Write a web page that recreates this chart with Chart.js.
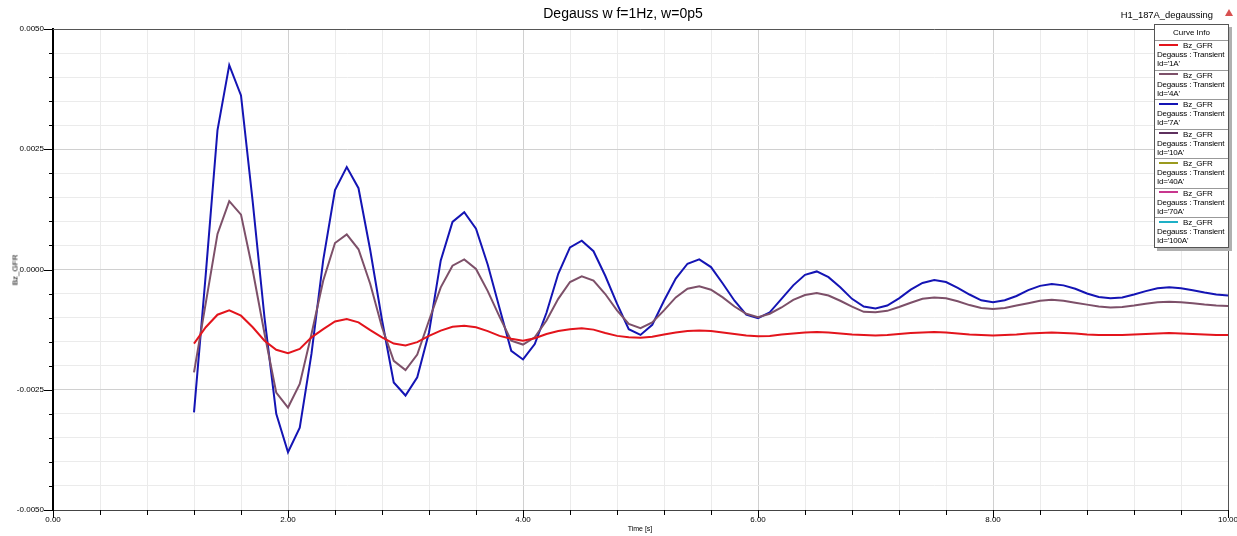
<!DOCTYPE html>
<html>
<head>
<meta charset="utf-8">
<title>Degauss w f=1Hz, w=0p5</title>
<script src="https://cdn.jsdelivr.net/npm/chart.js@4.4.1/dist/chart.umd.min.js"></script>
<style>
    body { margin: 0; background: #fff; font-family: "Liberation Sans", Arial, sans-serif; }
    #wrap { position: relative; width: 1237px; height: 536px; overflow: hidden; }
    #myChart { position: absolute; left: 0; top: 0; }
    .txt { position: absolute; white-space: nowrap; color: #000; }
    #title { left: 0; width: 1246px; top: 5px; text-align: center; font-size: 14px; }
    #design { right: 24px; top: 9px; font-size: 9.4px; }
    #icon { position: absolute; left: 1225px; top: 9px; width: 0; height: 0;
            border-left: 4px solid transparent; border-right: 4px solid transparent; border-bottom: 7px solid #d85050; }
    #ytitle { left: 15px; top: 270px; font-size: 8px; transform: translate(-50%, -50%) rotate(-90deg); }
    #xtitle { left: 640px; top: 525px; font-size: 7px; transform: translateX(-50%); }
    #legend { position: absolute; left: 1154px; top: 24px; width: 73px; background: #fff;
              border: 1px solid #555; box-shadow: 3px 3px 0 #b0b0b0; font-size: 8px; }
    #legend .head { height: 15px; line-height: 15px; text-align: center; border-bottom: 1px solid #999; }
    #legend .item { height: 28.5px; border-bottom: 1px solid #999; padding-left: 2px; line-height: 9px; letter-spacing: -0.2px; }
    #legend .item:last-child { border-bottom: none; }
    #legend .seg { display: inline-block; width: 19px; height: 2px; margin: 0 5px 2px 2px; vertical-align: middle; }
</style>
</head>
<body>
<div id="wrap">
    <canvas id="myChart" width="1237" height="536"></canvas>
    <div class="txt" id="title">Degauss w f=1Hz, w=0p5</div>
    <div class="txt" id="design">H1_187A_degaussing</div>
    <div id="icon"></div>
    <div class="txt" id="ytitle">Bz_GFR</div>
    <div class="txt" id="xtitle">Time [s]</div>
    <div id="legend"><div class="head">Curve Info</div></div>
</div>
<script>
// time axis [s]
const times = [
    1.2, 1.3, 1.4, 1.5, 1.6, 1.7, 1.8, 1.9, 2.0,
    2.1, 2.2, 2.3, 2.4, 2.5, 2.6, 2.7, 2.8, 2.9, 3.0,
    3.1, 3.2, 3.3, 3.4, 3.5, 3.6, 3.7, 3.8, 3.9, 4.0,
    4.1, 4.2, 4.3, 4.4, 4.5, 4.6, 4.7, 4.8, 4.9, 5.0,
    5.1, 5.2, 5.3, 5.4, 5.5, 5.6, 5.7, 5.8, 5.9, 6.0,
    6.1, 6.2, 6.3, 6.4, 6.5, 6.6, 6.7, 6.8, 6.9, 7.0,
    7.1, 7.2, 7.3, 7.4, 7.5, 7.6, 7.7, 7.8, 7.9, 8.0,
    8.1, 8.2, 8.3, 8.4, 8.5, 8.6, 8.7, 8.8, 8.9, 9.0,
    9.1, 9.2, 9.3, 9.4, 9.5, 9.6, 9.7, 9.8, 9.9, 10.0
];

// Bz_GFR for Id='1A'
const bz1A = [
    -0.00154, -0.00120, -0.00094, -0.00085, -0.00096, -0.00120, -0.00148, -0.00167, -0.00174,
    -0.00165, -0.00141, -0.00124, -0.00108, -0.00103, -0.00110, -0.00126, -0.00141, -0.00154, -0.00158,
    -0.00151, -0.00138, -0.00127, -0.00119, -0.00117, -0.00120, -0.00128, -0.00138, -0.00144, -0.00148,
    -0.00143, -0.00134, -0.00128, -0.00124, -0.00122, -0.00125, -0.00132, -0.00138, -0.00141, -0.00142,
    -0.00140, -0.00135, -0.00131, -0.00128, -0.00127, -0.00128, -0.00131, -0.00134, -0.00137, -0.00139,
    -0.00138, -0.00135, -0.00133, -0.00131, -0.00130, -0.00131, -0.00133, -0.00135, -0.00136, -0.00137,
    -0.00136, -0.00134, -0.00132, -0.00131, -0.00130, -0.00131, -0.00133, -0.00135, -0.00136, -0.00137,
    -0.00136, -0.00135, -0.00133, -0.00132, -0.00131, -0.00132, -0.00133, -0.00135, -0.00136, -0.00136,
    -0.00136, -0.00135, -0.00134, -0.00133, -0.00132, -0.00133, -0.00134, -0.00135, -0.00136, -0.00136
];

// Bz_GFR for Id='4A'
const bz4A = [
    -0.00214, -0.00070, 0.00074, 0.00142, 0.00114, -0.00002, -0.00133, -0.00256, -0.00287,
    -0.00238, -0.00134, -0.00023, 0.00055, 0.00073, 0.00042, -0.00030, -0.00120, -0.00190, -0.00209,
    -0.00177, -0.00106, -0.00037, 0.00008, 0.00021, 0.00001, -0.00045, -0.00098, -0.00148, -0.00156,
    -0.00141, -0.00106, -0.00061, -0.00026, -0.00014, -0.00023, -0.00051, -0.00085, -0.00113, -0.00122,
    -0.00110, -0.00085, -0.00058, -0.00040, -0.00035, -0.00042, -0.00058, -0.00077, -0.00092, -0.00099,
    -0.00092, -0.00079, -0.00063, -0.00053, -0.00049, -0.00054, -0.00065, -0.00077, -0.00088, -0.00089,
    -0.00086, -0.00078, -0.00069, -0.00061, -0.00058, -0.00060, -0.00066, -0.00074, -0.00080, -0.00082,
    -0.00080, -0.00075, -0.00070, -0.00065, -0.00063, -0.00065, -0.00069, -0.00073, -0.00077, -0.00079,
    -0.00078, -0.00075, -0.00071, -0.00068, -0.00067, -0.00068, -0.00070, -0.00073, -0.00075, -0.00076
];

// Bz_GFR for Id='7A'
const bz7A = [
    -0.00297, -0.00010, 0.00290, 0.00425, 0.00362, 0.00140, -0.00100, -0.00300, -0.00380,
    -0.00329, -0.00175, 0.00020, 0.00165, 0.00213, 0.00169, 0.00040, -0.00105, -0.00235, -0.00262,
    -0.00224, -0.00131, 0.00019, 0.00099, 0.00119, 0.00085, 0.00010, -0.00080, -0.00169, -0.00187,
    -0.00155, -0.00090, -0.00009, 0.00046, 0.00060, 0.00038, -0.00013, -0.00071, -0.00124, -0.00136,
    -0.00115, -0.00065, -0.00019, 0.00012, 0.00021, 0.00005, -0.00029, -0.00065, -0.00094, -0.00101,
    -0.00089, -0.00061, -0.00033, -0.00011, -0.00004, -0.00016, -0.00037, -0.00061, -0.00077, -0.00081,
    -0.00075, -0.00060, -0.00042, -0.00028, -0.00022, -0.00026, -0.00038, -0.00052, -0.00064, -0.00068,
    -0.00064, -0.00055, -0.00043, -0.00034, -0.00030, -0.00033, -0.00040, -0.00050, -0.00057, -0.00060,
    -0.00058, -0.00052, -0.00045, -0.00039, -0.00037, -0.00039, -0.00043, -0.00048, -0.00052, -0.00054
];

// curve info entries (the other currents have no drawn curve)
const curveIds = ["1A", "4A", "7A", "10A", "40A", "70A", "100A"];
const curveColors = ["#e3141c", "#7d5069", "#1414b4", "#5e305e", "#9a9a1e", "#c8368e", "#1eb0c6"];
const curveValues = [bz1A, bz4A, bz7A, [], [], [], []];

const xTickLabels = ["0.00", "2.00", "4.00", "6.00", "8.00", "10.00"];
const yTickLabels = ["-0.0050", "-0.0025", "0.0000", "0.0025", "0.0050"];

function IsMajor(value, step)
{
    return Math.abs(value / step - Math.round(value / step)) < 1e-6;
}

function BuildLegend()
{
    const box = document.getElementById("legend");
    curveIds.forEach((id, i) =>
    {
        const item = document.createElement("div");
        item.className = "item";
        item.innerHTML = '<span class="seg" style="background:' + curveColors[i] + '"></span>Bz_GFR<br>' +
            'Degauss : Transient<br>Id=\'' + id + '\'';
        box.appendChild(item);
    });
}

// frame on top/right and the axis tick marks (long for majors, short for minors)
const frame = {
    id: 'frame',
    afterDraw(chart)
    {
        const { ctx, chartArea: a, scales: { x, y } } = chart;
        ctx.save();
        ctx.lineWidth = 1;
        ctx.strokeStyle = '#555';
        ctx.beginPath();
        ctx.moveTo(a.left, a.top + 0.5);
        ctx.lineTo(a.right + 0.5, a.top + 0.5);
        ctx.lineTo(a.right + 0.5, a.bottom);
        ctx.stroke();

        ctx.strokeStyle = '#000';
        ctx.beginPath();
        y.ticks.forEach(t =>
        {
            const p = Math.round(y.getPixelForValue(t.value)) + 0.5;
            const len = IsMajor(t.value, 0.0025) ? 9 : 4;
            ctx.moveTo(a.left - len, p);
            ctx.lineTo(a.left, p);
        });
        x.ticks.forEach(t =>
        {
            const p = Math.round(x.getPixelForValue(t.value)) + 0.5;
            const len = IsMajor(t.value, 2) ? 8 : 5;
            ctx.moveTo(p, a.bottom);
            ctx.lineTo(p, a.bottom + len);
        });
        ctx.stroke();
        ctx.restore();
    }
};

function InitializeChart()
{
    const datasets = curveIds.map((id, i) => ({
        label: "Bz_GFR Id='" + id + "'",
        data: curveValues[i].map((v, k) => ({ x: times[k], y: v })),
        borderColor: curveColors[i],
        borderWidth: 2,
        pointRadius: 0,
        tension: 0,
        fill: false
    }));

    new Chart(document.getElementById("myChart"), {
        type: 'line',
        data: { datasets: datasets },
        plugins: [frame],
        options: {
            responsive: false,
            animation: false,
            layout: { padding: { top: 29, right: 9, left: 0, bottom: 0 } },
            plugins: {
                legend: { display: false },
                title: { display: false },
                tooltip: { enabled: false }
            },
            scales: {
                x: {
                    type: 'linear',
                    min: 0,
                    max: 10,
                    afterFit: s => { s.height = 26; s.paddingLeft = 0; s.paddingRight = 0; },
                    afterBuildTicks: s =>
                    {
                        s.ticks = [];
                        for (let i = 0; i <= 25; i++) s.ticks.push({ value: i * 0.4 });
                    },
                    grid: {
                        drawTicks: false,
                        color: c => IsMajor(c.tick.value, 2) ? '#d0d0d0' : '#ebebeb'
                    },
                    border: { color: '#444', width: 1 },
                    ticks: {
                        autoSkip: false,
                        maxRotation: 0,
                        padding: 5,
                        color: '#000',
                        font: { family: 'Liberation Sans', size: 8 },
                        callback: v => IsMajor(v, 2) ? xTickLabels[Math.round(v / 2)] : ''
                    }
                },
                y: {
                    min: -0.005,
                    max: 0.005,
                    afterFit: s => { s.width = 53; s.paddingTop = 0; s.paddingBottom = 0; },
                    afterBuildTicks: s =>
                    {
                        s.ticks = [];
                        for (let i = 0; i <= 20; i++) s.ticks.push({ value: -0.005 + i * 0.0005 });
                    },
                    grid: {
                        drawTicks: false,
                        color: c => IsMajor(c.tick.value, 0.0025) ? '#d0d0d0' : '#ebebeb'
                    },
                    border: { color: '#000', width: 2 },
                    ticks: {
                        autoSkip: false,
                        padding: 9,
                        color: '#000',
                        font: { family: 'Liberation Sans', size: 8 },
                        callback: v => IsMajor(v, 0.0025) ? yTickLabels[Math.round(v / 0.0025) + 2] : ''
                    }
                }
            }
        }
    });
}

BuildLegend();
InitializeChart();
</script>
</body>
</html>
